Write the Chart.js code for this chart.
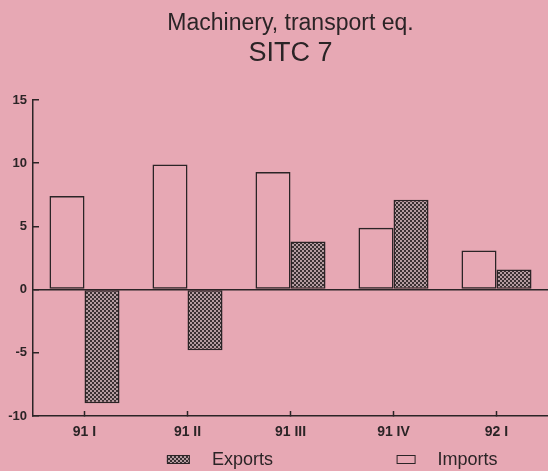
<!DOCTYPE html>
<html>
<head>
<meta charset="utf-8">
<script src="https://cdn.jsdelivr.net/npm/chart.js@4"></script>
<style>
  html, body { margin: 0; padding: 0; background: #e7a8b4; }
  #chart { display: block; }
</style>
</head>
<body>
<canvas id="chart" width="548" height="471"></canvas>
<script>
const quarters = ['91 I', '91 II', '91 III', '91 IV', '92 I'];
const imports = [7.4, 9.9, 9.3, 4.9, 3.1];
const exports = [-9.0, -4.8, 3.8, 7.1, 1.6];
const yTicks = [-10, -5, 0, 5, 10, 15];

const ink = '#2b2426';
const paper = '#e7a8b4';

// fine checkered fill used for the exports bars
function checkPattern() {
  const c = document.createElement('canvas');
  c.width = 4;
  c.height = 4;
  const g = c.getContext('2d');
  g.fillStyle = '#3a3032';
  g.fillRect(0, 0, 4, 4);
  g.fillStyle = '#b59ca1';
  g.fillRect(0, 0, 2, 2);
  g.fillRect(2, 2, 2, 2);
  return g.createPattern(c, 'repeat');
}
const exportFill = checkPattern();

const paperBg = {
  id: 'paperBg',
  beforeDraw(chart) {
    const ctx = chart.ctx;
    ctx.save();
    ctx.fillStyle = paper;
    ctx.fillRect(0, 0, chart.width, chart.height);
    ctx.restore();
  }
};

// legend drawn under the axis labels, Exports first
const bottomLegend = {
  id: 'bottomLegend',
  afterDraw(chart) {
    const ctx = chart.ctx;
    const area = chart.chartArea;
    const w = area.right - area.left;
    const items = [
      { ds: chart.data.datasets[1], at: 0.26, bw: 22 },
      { ds: chart.data.datasets[0], at: 0.706, bw: 18 }
    ];
    const y = 459;
    ctx.save();
    ctx.font = '18px "Liberation Sans", Arial, sans-serif';
    ctx.textBaseline = 'middle';
    items.forEach(it => {
      const x = area.left + it.at * w;
      ctx.fillStyle = it.ds.backgroundColor;
      ctx.fillRect(x, y - 4, it.bw, 8);
      ctx.strokeStyle = ink;
      ctx.lineWidth = 1;
      ctx.strokeRect(x + 0.5, y - 3.5, it.bw, 8);
      ctx.fillStyle = ink;
      ctx.fillText(it.ds.label, x + it.bw + 23, y + 1);
    });
    ctx.restore();
  }
};

new Chart(document.getElementById('chart'), {
  type: 'bar',
  data: {
    labels: quarters,
    datasets: [
      {
        label: 'Imports',
        data: imports,
        backgroundColor: 'rgba(0,0,0,0)',
        borderColor: ink,
        borderWidth: 1.5,
        borderSkipped: false
      },
      {
        label: 'Exports',
        data: exports,
        backgroundColor: exportFill,
        borderColor: ink,
        borderWidth: 1.5,
        borderSkipped: false
      }
    ]
  },
  options: {
    responsive: false,
    animation: false,
    categoryPercentage: 0.68,
    barPercentage: 1.0,
    layout: { padding: { left: 0, right: 0, top: 0, bottom: 0 } },
    plugins: {
      legend: { display: false },
      tooltip: { enabled: false },
      title: {
        display: true,
        text: 'Machinery, transport eq.',
        fullSize: false,
        color: ink,
        font: { family: '"Liberation Sans", Arial, sans-serif', size: 23, weight: 'normal' },
        padding: { top: 10, bottom: 0 }
      },
      subtitle: {
        display: true,
        text: 'SITC 7',
        fullSize: false,
        color: ink,
        font: { family: '"Liberation Sans", Arial, sans-serif', size: 27, weight: 'normal' },
        padding: { top: 0, bottom: 30 }
      }
    },
    scales: {
      x: {
        grid: {
          offset: false,
          drawOnChartArea: false,
          tickLength: -5,
          tickColor: ink,
          tickWidth: 1.5
        },
        border: { color: ink, width: 1.5 },
        ticks: {
          color: ink,
          padding: 13,
          maxRotation: 0,
          font: { family: '"Liberation Sans", Arial, sans-serif', size: 14, weight: 'bold' }
        },
        afterFit(scale) { scale.height = 55; }
      },
      y: {
        min: -10,
        max: 15,
        afterBuildTicks(scale) { scale.ticks = yTicks.map(v => ({ value: v })); },
        grid: {
          color: c => (c.tick && c.tick.value === 0 ? ink : 'rgba(0,0,0,0)'),
          lineWidth: 1.5,
          tickLength: -6,
          tickColor: ink,
          tickWidth: 1.5
        },
        border: { color: ink, width: 1.5 },
        ticks: {
          color: ink,
          padding: 12,
          font: { family: '"Liberation Sans", Arial, sans-serif', size: 13, weight: 'bold' }
        },
        afterFit(scale) { scale.width = 33; }
      }
    }
  },
  plugins: [paperBg, bottomLegend]
});
</script>
</body>
</html>
